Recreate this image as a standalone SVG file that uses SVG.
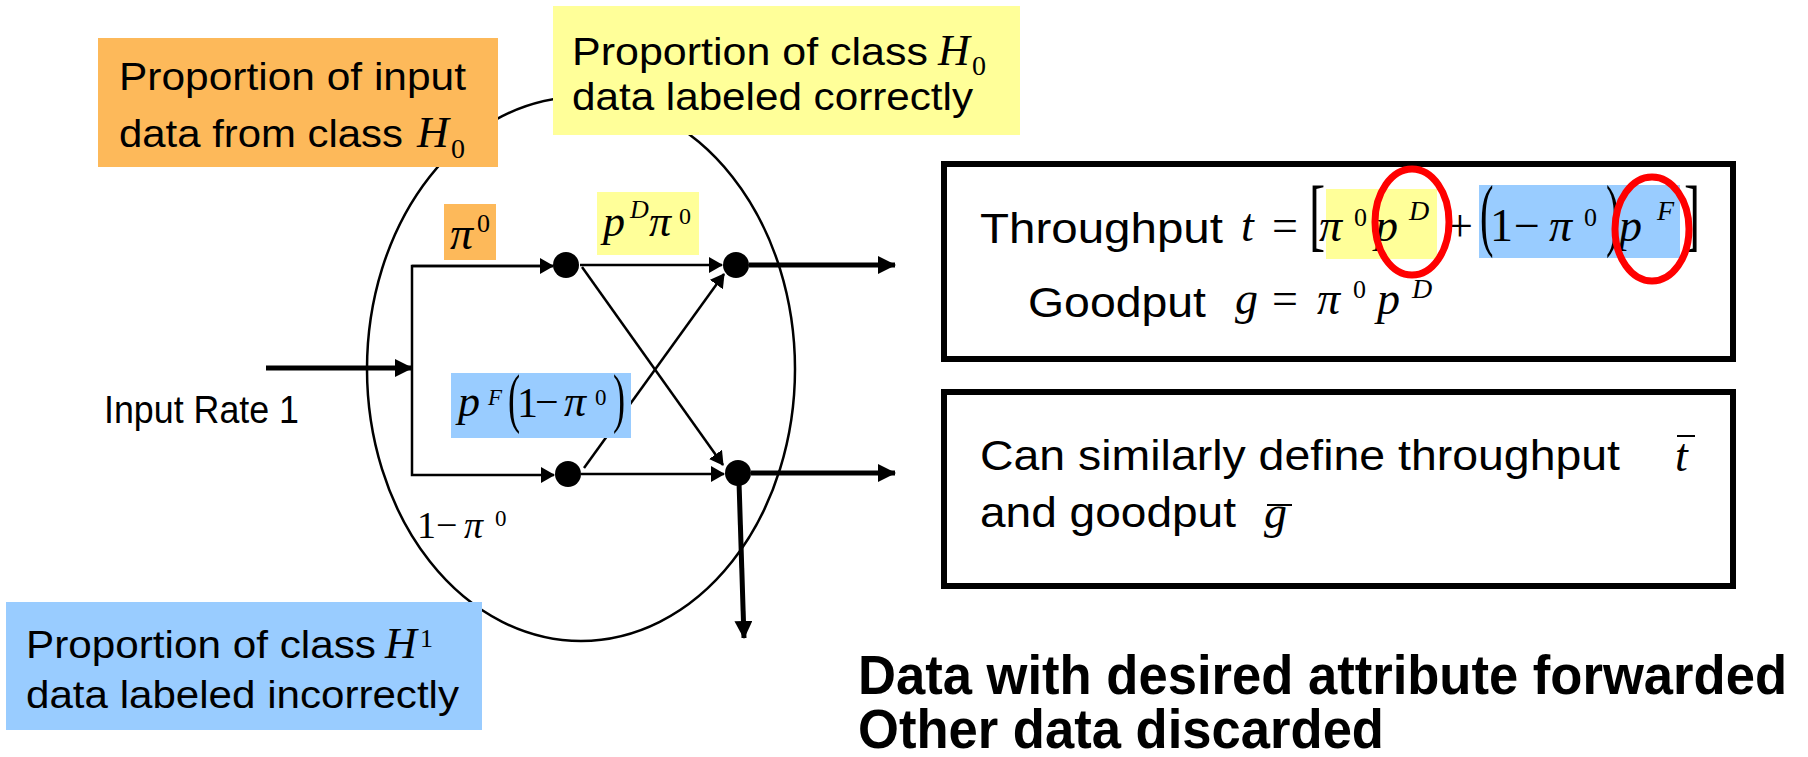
<svg xmlns="http://www.w3.org/2000/svg" width="1808" height="757" viewBox="0 0 1808 757">
  <style>
    .lbl { font-family: "Liberation Sans", Arial, sans-serif; font-size: 38px; fill: #000; }
    .box { font-family: "Liberation Sans", Arial, sans-serif; font-size: 42px; fill: #000; }
    .bold { font-family: "Liberation Sans", Arial, sans-serif; font-size: 55px; font-weight: bold; fill: #000; }
    .mi { font-family: "Liberation Serif", "Times New Roman", serif; font-style: italic; fill: #000; }
    .mn { font-family: "Liberation Serif", "Times New Roman", serif; fill: #000; }
    .thin { stroke: #000; stroke-width: 2.5; fill: none; }
    .thick { stroke: #000; stroke-width: 5; fill: none; }
    .frame { stroke: #000; stroke-width: 6; fill: #fff; }
    .ring { stroke: #ff0000; stroke-width: 7; fill: none; }
  </style>
  <defs>
    <marker id="headThin" viewBox="0 0 14 16" markerWidth="14" markerHeight="16" refX="13" refY="8" orient="auto" markerUnits="userSpaceOnUse">
      <path d="M0,0 L14,8 L0,16 Z" fill="#000"/>
    </marker>
    <marker id="headThick" viewBox="0 0 18 18" markerWidth="18" markerHeight="18" refX="17" refY="9" orient="auto" markerUnits="userSpaceOnUse">
      <path d="M0,0 L18,9 L0,18 Z" fill="#000"/>
    </marker>
  </defs>

  <rect width="1808" height="757" fill="#fff"/>

  <!-- outer classifier boundary -->
  <ellipse id="boundary" cx="581" cy="369" rx="214" ry="272" fill="none" stroke="#000" stroke-width="2.5"/>

  <!-- connectors -->
  <g id="connectors">
    <line class="thick" x1="266" y1="368" x2="412" y2="368" marker-end="url(#headThick)"/>
    <polyline class="thin" points="553,266 412,266 412,475 554,475" marker-end="url(#headThin)"/>
    <line class="thin" x1="412" y1="266" x2="553" y2="266" marker-end="url(#headThin)"/>
    <line class="thin" x1="580" y1="265" x2="722" y2="265" marker-end="url(#headThin)"/>
    <line class="thin" x1="582" y1="267" x2="723" y2="465" marker-end="url(#headThin)"/>
    <line class="thin" x1="584" y1="468" x2="724" y2="274" marker-end="url(#headThin)"/>
    <line class="thin" x1="581" y1="474" x2="724" y2="474" marker-end="url(#headThin)"/>
    <line class="thick" x1="749" y1="265" x2="895" y2="265" marker-end="url(#headThick)"/>
    <line class="thick" x1="751" y1="473" x2="895" y2="473" marker-end="url(#headThick)"/>
    <line class="thick" x1="739" y1="482" x2="744" y2="638" marker-end="url(#headThick)"/>
  </g>

  <!-- junction dots -->
  <g id="dot-upper-split"><circle cx="566" cy="265" r="13" fill="#000"/></g>
  <g id="dot-lower-split"><circle cx="568" cy="474" r="13" fill="#000"/></g>
  <g id="dot-forward"><circle cx="736" cy="265" r="13" fill="#000"/></g>
  <g id="dot-discard"><circle cx="738" cy="473" r="13" fill="#000"/></g>

  <!-- branch labels -->
  <g id="label-pi0">
    <rect x="444" y="204" width="52" height="56" fill="#fdb95a"/>
    <text class="mi" x="450" y="249" font-size="46">π</text>
    <text class="mn" x="477" y="232" font-size="26">0</text>
  </g>
  <g id="label-pD-pi0">
    <rect x="597" y="192" width="102" height="63" fill="#ffff99"/>
    <text class="mi" x="603" y="236" font-size="44">p</text>
    <text class="mi" x="630" y="218" font-size="26">D</text>
    <text class="mi" x="649" y="236" font-size="44">π</text>
    <text class="mn" x="679" y="224" font-size="24">0</text>
  </g>
  <g id="label-pF">
    <rect x="451" y="373" width="180" height="65" fill="#99ccff"/>
    <text class="mi" x="458" y="416" font-size="44">p</text>
    <text class="mi" x="488" y="405" font-size="23">F</text>
    <text class="mn" font-size="66" transform="translate(508,420) scale(0.55,1)">(</text>
    <text class="mn" x="517" y="417" font-size="42">1</text>
    <text class="mn" x="535" y="416" font-size="42">−</text>
    <text class="mi" x="564" y="416" font-size="44">π</text>
    <text class="mn" x="595" y="405" font-size="23">0</text>
    <text class="mn" font-size="66" transform="translate(613,420) scale(0.55,1)">)</text>
  </g>
  <g id="label-1-pi0">
    <text class="mn" x="417" y="538" font-size="38">1</text>
    <text class="mn" x="436" y="538" font-size="38">−</text>
    <text class="mi" x="464" y="538" font-size="38">π</text>
    <text class="mn" x="495" y="526" font-size="23">0</text>
  </g>
  <g id="label-input">
    <text class="lbl" x="104" y="423" font-size="32" textLength="195" lengthAdjust="spacingAndGlyphs">Input Rate 1</text>
  </g>

  <!-- callouts -->
  <g id="callout-input-H0">
    <rect x="98" y="38" width="400" height="129" fill="#fdb95a"/>
    <text class="lbl" x="119" y="90" textLength="347" lengthAdjust="spacingAndGlyphs">Proportion of input</text>
    <text class="lbl" x="119" y="147" textLength="284" lengthAdjust="spacingAndGlyphs">data from class</text>
    <text class="mi" x="417" y="147" font-size="44">H</text>
    <text class="mn" x="451" y="158" font-size="28">0</text>
  </g>
  <g id="callout-correct-H0">
    <rect x="553" y="6" width="467" height="129" fill="#ffff99"/>
    <text class="lbl" x="572" y="65" textLength="356" lengthAdjust="spacingAndGlyphs">Proportion of class</text>
    <text class="mi" x="938" y="65" font-size="44">H</text>
    <text class="mn" x="972" y="75" font-size="28">0</text>
    <text class="lbl" x="572" y="110" textLength="401" lengthAdjust="spacingAndGlyphs">data labeled correctly</text>
  </g>
  <g id="callout-incorrect-H1">
    <rect x="6" y="602" width="476" height="128" fill="#99ccff"/>
    <text class="lbl" x="26" y="658" textLength="350" lengthAdjust="spacingAndGlyphs">Proportion of class</text>
    <text class="mi" x="385" y="658" font-size="44">H</text>
    <text class="mn" x="420" y="647" font-size="26">1</text>
    <text class="lbl" x="26" y="708" textLength="433" lengthAdjust="spacingAndGlyphs">data labeled incorrectly</text>
  </g>

  <!-- throughput / goodput definitions -->
  <g id="box-throughput">
    <rect class="frame" x="944" y="164" width="789" height="195"/>
    <rect x="1326" y="189" width="111" height="70" fill="#ffff99"/>
    <rect x="1479" y="185" width="201" height="73" fill="#99ccff"/>
    <text class="box" x="980" y="243" textLength="243" lengthAdjust="spacingAndGlyphs">Throughput</text>
    <text class="mi" x="1241" y="241" font-size="46">t</text>
    <text class="mn" x="1272" y="241" font-size="46">=</text>
    <text class="mn" font-size="81" transform="translate(1309,241) scale(0.6,1)">[</text>
    <text class="mi" x="1319" y="241" font-size="46">π</text>
    <text class="mn" x="1354" y="226" font-size="26">0</text>
    <text class="mi" x="1375" y="241" font-size="46">p</text>
    <text class="mi" x="1409" y="220" font-size="28">D</text>
    <text class="mn" x="1447" y="241" font-size="46">+</text>
    <text class="mn" font-size="81" transform="translate(1480,241) scale(0.5,1)">(</text>
    <text class="mn" x="1490" y="241" font-size="46">1</text>
    <text class="mn" x="1514" y="241" font-size="46">−</text>
    <text class="mi" x="1549" y="241" font-size="46">π</text>
    <text class="mn" x="1584" y="226" font-size="26">0</text>
    <text class="mn" font-size="81" transform="translate(1606,241) scale(0.5,1)">)</text>
    <text class="mi" x="1619" y="241" font-size="46">p</text>
    <text class="mi" x="1657" y="220" font-size="28">F</text>
    <text class="mn" font-size="81" transform="translate(1684,241) scale(0.6,1)">]</text>
    <ellipse class="ring" cx="1412" cy="222" rx="37" ry="53"/>
    <ellipse class="ring" cx="1652" cy="229" rx="37" ry="52"/>
    <text class="box" x="1028" y="317" textLength="178" lengthAdjust="spacingAndGlyphs">Goodput</text>
    <text class="mi" x="1235" y="314" font-size="46">g</text>
    <text class="mn" x="1272" y="314" font-size="46">=</text>
    <text class="mi" x="1317" y="314" font-size="46">π</text>
    <text class="mn" x="1353" y="298" font-size="26">0</text>
    <text class="mi" x="1377" y="314" font-size="46">p</text>
    <text class="mi" x="1412" y="298" font-size="28">D</text>
  </g>
  <g id="box-bar-metrics">
    <rect class="frame" x="944" y="392" width="789" height="194"/>
    <text class="box" x="980" y="470" textLength="640" lengthAdjust="spacingAndGlyphs">Can similarly define throughput</text>
    <text class="mi" x="1675" y="471" font-size="46">t</text>
    <line x1="1677" y1="436" x2="1695" y2="436" stroke="#000" stroke-width="2"/>
    <text class="box" x="980" y="527" textLength="256" lengthAdjust="spacingAndGlyphs">and goodput</text>
    <text class="mi" x="1264" y="528" font-size="46">g</text>
    <line x1="1267" y1="505" x2="1292" y2="505" stroke="#000" stroke-width="2"/>
  </g>

  <!-- summary -->
  <g id="summary">
    <text class="bold" x="858" y="694" textLength="929" lengthAdjust="spacingAndGlyphs">Data with desired attribute forwarded</text>
    <text class="bold" x="858" y="748" textLength="526" lengthAdjust="spacingAndGlyphs">Other data discarded</text>
  </g>
</svg>
